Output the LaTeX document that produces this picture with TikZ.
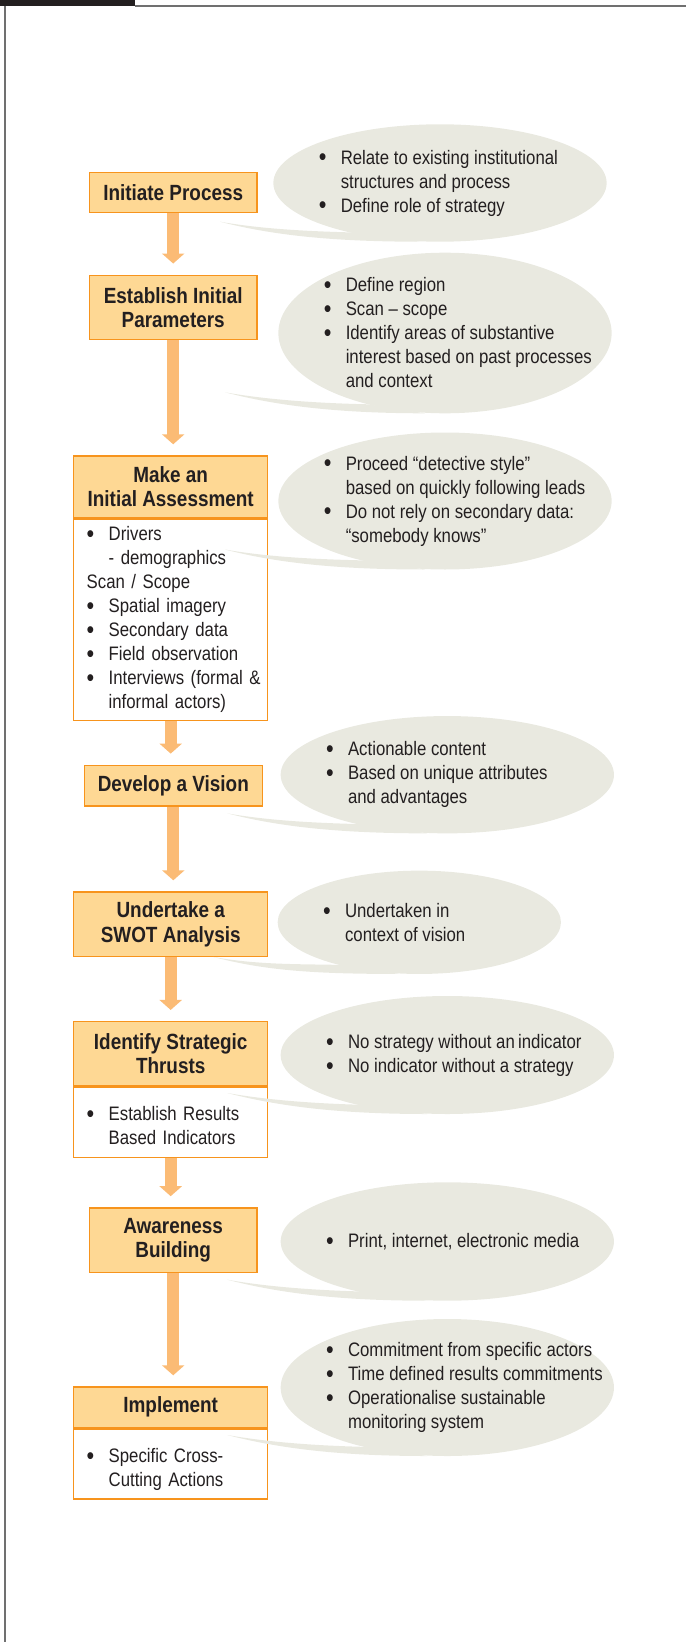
\documentclass[tikz,border=0pt]{standalone}
\usepackage{fontspec}
\setmainfont{Liberation Sans}[FakeStretch=0.86]
\usepackage{graphicx}
\usepackage{tikz}
\usetikzlibrary{positioning}
\usetikzlibrary{shapes.geometric, arrows.meta, calc}

\definecolor{ink}{HTML}{231F20}
\definecolor{boxfill}{HTML}{FED894}
\definecolor{boxline}{HTML}{F7941D}
\definecolor{flowcol}{HTML}{FBBB75}
\definecolor{bubblefill}{HTML}{E9E9E0}
\definecolor{framegray}{HTML}{707070}

\newcommand{\bul}{\makebox[11pt][l]{\raisebox{-0.1em}{\scalebox{1.3}{\textbullet}}}}
\newcommand{\ind}{\hspace*{11pt}}

\begin{document}
\begin{tikzpicture}[x=0.5pt, y=-0.5pt,
    stepbox/.style={draw=boxline, fill=boxfill, line width=0.75pt, inner sep=0pt,
        align=center, text=ink, font=\fontsize{11}{12.2}\selectfont\bfseries},
    stepbody/.style={draw=boxline, fill=white, line width=0.75pt, inner xsep=6.5pt, inner ysep=0pt,
        text width=84pt, align=left, text=ink, font=\fontsize{9.75}{12}\selectfont},
    bubble/.style={ellipse, fill=bubblefill, inner sep=0pt, outer sep=0pt},
    note/.style={inner sep=0pt, align=left, text=ink, font=\fontsize{9.75}{12}\selectfont},
    flow/.style={draw=flowcol, line width=6pt, -{Triangle[width=11pt,length=5pt]}, shorten >=5.5pt}]

    \useasboundingbox (0,0) rectangle (686,1642);

    % frame
    \fill[ink] (0,0) rectangle (135,6.3);
    \draw[framegray, line width=1pt] (135,6) -- (686,6);
    \draw[framegray, line width=1pt] (5.3,6) -- (5.3,1642);

    % steps
    \node[stepbox, minimum width=83.85pt, minimum height=20.2pt] (init) at (173.2,192.5) {Initiate Process};
    \node[stepbox, minimum width=83.85pt, minimum height=32.2pt] (param) at (173.2,307.5) {Establish Initial\\Parameters};
    \node[stepbox, minimum width=97pt, minimum height=30.65pt] (assess) at (170.7,486.7) {Make an\\Initial Assessment};
    \node[stepbody, minimum height=100.85pt, below=0pt of assess] (assessbody)
        {\strut\bul Drivers\\ \ind - demographics\\ Scan / Scope\\ \bul Spatial imagery\\ \bul Secondary data\\
         \bul Field observation\\ \mbox{\bul Interviews (formal \&}\\ \ind informal actors)\strut};
    \node[stepbox, minimum width=89pt, minimum height=20.35pt] (vision) at (173.3,785.7) {Develop a Vision};
    \node[stepbox, minimum width=97pt, minimum height=32.15pt] (swot) at (170.7,924.2) {Undertake a\\SWOT Analysis};
    \node[stepbox, minimum width=97pt, minimum height=31.8pt] (thrust) at (170.7,1053.5) {Identify Strategic\\Thrusts};
    \node[stepbody, minimum height=35.35pt, below=0pt of thrust] (thrustbody)
        {\bul\rule{0pt}{14.4pt}Establish Results\\ \ind Based Indicators\strut};
    \node[stepbox, minimum width=83.85pt, minimum height=32.35pt] (aware) at (173.2,1240.3) {Awareness\\Building};
    \node[stepbox, minimum width=97pt, minimum height=20.15pt] (impl) at (170.7,1407.2) {Implement};
    \node[stepbody, minimum height=35pt, below=0pt of impl] (implbody)
        {\bul\rule{0pt}{14.4pt}Specific Cross-\\ \ind Cutting Actions\strut};

    % flow arrows
    \draw[flow] (init.south) -- (init.south |- param.north);
    \draw[flow] (param.south) -- (param.south |- assess.north);
    \draw[flow] (assessbody.south) -- (assessbody.south |- vision.north);
    \draw[flow] (vision.south) -- (vision.south |- swot.north);
    \draw[flow] (swot.south) -- (swot.south |- thrust.north);
    \draw[flow] (thrustbody.south) -- (thrustbody.south |- aware.north);
    \draw[flow] (aware.south) -- (aware.south |- impl.north);

    % bubbles
    \node[bubble, minimum width=166.65pt, minimum height=58.7pt] (b1) at (440,183) {};
    \node[bubble, minimum width=166.65pt, minimum height=80.3pt] (b2) at (445,333) {};
    \node[bubble, minimum width=166.65pt, minimum height=68.5pt] (b3) at (445,501) {};
    \node[bubble, minimum width=166.65pt, minimum height=58.65pt] (b4) at (447.3,774.7) {};
    \node[bubble, minimum width=141.65pt, minimum height=51.65pt] (b5) at (419.3,922.3) {};
    \node[bubble, minimum width=166.65pt, minimum height=59pt] (b6) at (447.3,1055) {};
    \node[bubble, minimum width=166.65pt, minimum height=59.2pt] (b7) at (447.3,1241.5) {};
    \node[bubble, minimum width=166.65pt, minimum height=68.5pt] (b8) at (447.3,1387.5) {};

    % bubble tails
    \foreach \b/\tx/\ty in {b1/220/20, b2/220/21, b3/220/20, b4/220/20, b5/206/17, b6/220/21, b7/220/21, b8/220/21}
        \fill[bubblefill] ($(\b.south)+(-\tx,-\ty)$)
            .. controls ($(\b.south)+(-\tx+45,-\ty+8)$) and ($(\b.south)+(-122,-10)$) .. ($(\b.south)+(-77,-9)$)
            -- ($(\b.south)+(-20,0)$)
            .. controls ($(\b.south)+(-110,0)$) and ($(\b.south)+(-\tx+50,-\ty+13)$) .. cycle;

    % bubble texts
    \node[note, right=22.5pt of b1.west] (t1) {\bul Relate to existing institutional\\ \ind structures and process\\ \bul Define role of strategy};
    \node[note, right=22.5pt of b2.west] (t2) {\bul Define region\\ \bul Scan – scope\\ \bul Identify areas of substantive\\
        \ind interest based on past processes\\ \ind and context};
    \node[note, right=22.5pt of b3.west] (t3) {\bul Proceed “detective style”\\ \ind based on quickly following leads\\
        \bul Do not rely on secondary data:\\ \ind “somebody knows”};
    \node[note, right=22.5pt of b4.west] (t4) {\bul Actionable content\\ \bul Based on unique attributes\\ \ind and advantages};
    \node[note, right=22.5pt of b5.west] (t5) {\bul Undertaken in\\ \ind context of vision};
    \node[note, right=22.5pt of b6.west] (t6) {\bul No strategy without an\,indicator\\ \bul No indicator without a strategy};
    \node[note, right=22.5pt of b7.west] (t7) {\bul Print, internet, electronic media};
    \node[note, right=22.5pt of b8.west] (t8) {\bul Commitment from specific actors\\ \bul Time defined results commitments\\
        \bul Operationalise sustainable\\ \ind monitoring system};
\end{tikzpicture}
\end{document}
